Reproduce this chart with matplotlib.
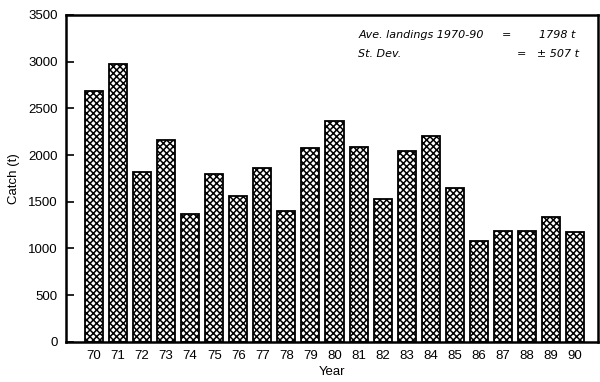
import matplotlib.pyplot as plt
import matplotlib as mpl

years = ['70', '71', '72', '73', '74', '75', '76', '77', '78', '79', '80',
         '81', '82', '83', '84', '85', '86', '87', '88', '89', '90']
catch = [2690, 2975, 1820, 2160, 1370, 1800, 1560, 1860, 1400, 2080, 2360,
         2090, 1530, 2040, 2200, 1650, 1080, 1185, 1190, 1340, 1180]
yticks = [0, 500, 1000, 1500, 2000, 2500, 3000, 3500]

mpl.rcParams['font.family'] = ['Liberation Sans', 'DejaVu Sans']
mpl.rcParams['hatch.linewidth'] = 1.1

fig = plt.figure(figsize=(6, 3.82), dpi=100)
ax = fig.add_axes([0.11, 0.105, 0.887, 0.856])

x = list(range(len(years)))
ax.bar(x, catch, width=0.75, color='white', edgecolor='black',
       hatch='xxxxx', linewidth=1.3)

ax.set_xlim(-1.16, 20.96)
ax.set_ylim(0, 3500)
ax.set_yticks(yticks)
ax.set_yticklabels([str(v) for v in yticks], fontsize=9.5)
ax.set_xticks(x)
ax.set_xticklabels(years, fontsize=9.5)
ax.tick_params(axis='y', direction='in', length=6, width=1.2, pad=6)
ax.tick_params(axis='x', length=0, pad=6)
for s in ax.spines.values():
    s.set_linewidth(1.8)

ax.set_xlabel('Year', fontsize=9.5, labelpad=3)
ax.set_ylabel('Catch (t)', fontsize=9.5, labelpad=6)

note = dict(transform=ax.transAxes, fontsize=8, family='DejaVu Sans',
            style='italic', va='top')
ax.text(0.549, 0.955, 'Ave. landings 1970-90', **note)
ax.text(0.818, 0.955, '=', **note)
ax.text(0.888, 0.955, '1798 t', **note)
ax.text(0.549, 0.895, 'St. Dev.', **note)
ax.text(0.848, 0.895, '=   \u00b1 507 t', **note)

fig.savefig('out.png', dpi=100)
